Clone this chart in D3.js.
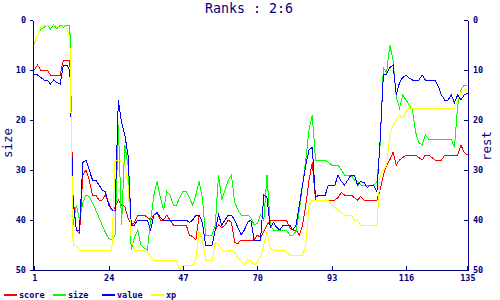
<!DOCTYPE html>
<html><head><meta charset="utf-8">
<script src="https://cdn.jsdelivr.net/npm/d3@7"></script>
<style>body{margin:0;background:#fff}svg{display:block}</style>
</head><body><svg id="c" width="500" height="300"></svg>
<script>
const title = "Ranks : 2:6";
const leftTitle = "size";
const rightTitle = "rest";
const seriesNames = ["score", "size", "value", "xp"];
const seriesColors = ["#ff0000", "#00ff00", "#0000ff", "#ffff00"];
const xTicks = [1, 24, 47, 70, 93, 116, 135];
const yTicks = [0, 10, 20, 30, 40, 50];

const score = [
 10, 9, 10, 10, 10, 11, 11, 11, 11, 8, 8, 8,
 35.5, 42, 42.7, 31, 30, 32, 35, 35, 36, 36, 35, 36.5,
 38, 37.5, 36, 37, 37.3, 39.6, 41, 40.5, 39, 39, 39, 39.5,
 40, 39, 38.6, 40, 40, 39, 40, 41, 41, 41, 41,
 41, 43, 43.3, 44, 39, 40.5, 45, 45, 45, 42, 41, 41.5,
 41, 40, 40.5, 44.5, 44.7, 44, 44, 44, 44, 44, 43,
 43.5, 42.3, 41, 40, 40, 40, 40, 40, 40, 41.5, 42, 42,
 43, 41, 37, 32, 28.5, 36, 36, 36, 36, 36, 36,
 36, 35.5, 34.5, 35, 35, 35, 35.5, 36, 35.3, 36, 36, 36,
 36, 36, 34, 31, 29, 28, 26.5, 29, 28, 27.5, 27,
 27, 27, 27, 27.5, 28, 27, 27, 27.5, 28, 28, 28, 27,
 27, 27, 27, 27, 25, 26.5, 27
];
const size = [
 4.7, 3, 1.8, 1.5, 1, 1.8, 1, 1.8, 1, 1.5, 1, 1,
 41, 37, 40, 36.5, 35, 35.3, 36.5, 38, 39.5, 41, 42.5, 43.7,
 44, 43, 21, 41, 25, 29, 46, 43.5, 42, 45, 45.6, 46,
 40, 35, 32.3, 35.5, 38, 34.3, 35, 37, 37, 35.5, 34.3,
 34.3, 35.6, 37, 35, 32.3, 35.5, 43, 43, 43, 41, 31, 36,
 34, 32, 31, 36.5, 38, 39, 39, 39, 39.5, 41, 40.7,
 39, 40, 31, 41, 42, 42, 42, 42, 42, 43, 43, 42.3,
 38, 33, 28, 22, 19, 28, 28, 28, 28, 28.5, 29,
 29, 29, 30, 31, 31, 31, 32, 32.3, 33, 33, 33, 33,
 33, 32.5, 25, 9.6, 10.5, 5, 8, 15.5, 17.6, 15, 16,
 17, 18, 22.5, 24.5, 25, 23, 23.8, 23.8, 23.8, 23.8, 23.8, 23.8,
 23.8, 23.8, 25.5, 17, 14, 13, 13
];
const value = [
 10.8, 11, 11.5, 12, 12, 12.8, 12, 12.5, 12.8, 9, 9, 10,
 36, 42, 42, 28.5, 28, 30, 32, 32, 33, 34, 34.3, 37,
 38, 38, 16, 20.5, 23, 27, 41, 41, 40, 40, 40, 40,
 42, 39, 38.5, 39.5, 40, 40, 40, 40, 40, 40, 40,
 40, 40.5, 40, 39, 39, 40.5, 45, 45, 45, 42, 39, 41,
 40, 39, 39, 40, 41.5, 43, 42, 40.5, 40, 44, 44,
 44, 35, 35.5, 41.5, 40.5, 41.5, 42, 41, 41, 41, 42, 41,
 37, 33, 29, 26, 25.5, 35.5, 35, 35, 35, 33, 33,
 33, 31, 32.3, 33, 32, 31, 31, 33, 32.3, 32.5, 33.5, 33,
 33, 34.3, 24, 11, 10.8, 9.5, 9, 15, 12.5, 11.5, 11,
 11.6, 12, 12, 12, 11, 12, 12, 12, 12, 13.3, 15, 16,
 16, 15, 16.5, 15, 16, 15, 14.6
];
const xp = [
 4.5, 3, 1.5, 1, 1, 1.2, 1, 1.3, 1.5, 1, 1.5, 3.5,
 45, 45, 46, 46, 46, 46, 46, 46, 46, 46, 46, 46,
 46, 28, 28, 28.3, 29, 33, 44, 46, 46, 46, 46, 46.5,
 47.3, 48, 48, 48, 48, 48, 48, 48, 48, 50, 49,
 49, 49, 49, 48, 42.3, 44, 48, 48, 48, 44.5, 45, 46,
 46.3, 46, 46, 46.5, 47.6, 48, 49, 48, 48.2, 49, 48.5,
 47.3, 45, 42.5, 45.6, 46, 46, 46, 46, 46.5, 47, 47, 47,
 47, 47, 45, 37, 36, 36, 36, 36, 36, 36, 37,
 37.5, 38, 38.5, 39, 39, 39, 40, 40, 41, 41, 41, 41,
 41, 41, 31, 30, 29, 23, 21, 20, 19, 19.6, 18.3,
 17.6, 17.6, 17.6, 17.6, 17.6, 17.6, 17.6, 17.6, 17.6, 17.6, 17.6, 17.6,
 17.6, 17.6, 17.6, 16, 14.5, 14, 14
];
const seriesData = [score, size, value, xp];

const navy = "#000080";
const font = "'DejaVu Sans Mono', monospace";
const svg = d3.select("#c").attr("shape-rendering", "crispEdges");

const x = d3.scaleLinear().domain([1, 135]).range([34.3, 467.4]);
const y = d3.scaleLinear().domain([0, 50]).range([20, 270]);
const axL = 33, axR = 468;

// title
svg.append("text").attr("x", 249).attr("y", 13).attr("text-anchor", "middle")
  .attr("font-family", font).attr("font-size", 13.3).attr("fill", navy).text(title);

// series
const line = d3.line().x((d, i) => x(i + 1)).y(d => y(d));
seriesData.forEach((s, k) => {
  svg.append("path").datum(s).attr("d", line).attr("fill", "none")
    .attr("stroke", seriesColors[k]).attr("stroke-width", 1);
});

function styleAxis(g) {
  g.selectAll("text").attr("font-family", font).attr("font-size", 8.5)
    .attr("font-weight", "bold").attr("fill", navy);
  g.selectAll("line").attr("stroke", navy);
  g.selectAll("path").attr("stroke", navy);
}

// left axis
const gl = svg.append("g").attr("transform", `translate(${axL},0)`)
  .call(d3.axisLeft(y).tickValues(yTicks).tickSize(3).tickSizeOuter(0).tickPadding(4));
styleAxis(gl);
// right axis
const gr = svg.append("g").attr("transform", `translate(${axR},0)`)
  .call(d3.axisRight(y).tickValues(yTicks).tickSize(-4).tickSizeOuter(0).tickPadding(5));
styleAxis(gr);
// bottom axis
const gb = svg.append("g").attr("transform", `translate(0,${y(50)})`)
  .call(d3.axisBottom(x).tickValues(xTicks).tickSize(-4).tickSizeOuter(0).tickPadding(5));
gb.select(".domain").remove();
styleAxis(gb);
gb.append("line").attr("x1", axL - 2).attr("x2", axR + 1).attr("y1", 0).attr("y2", 0)
  .attr("stroke", navy);

// axis titles
svg.append("text").attr("transform", `translate(12,${y(24.6)}) rotate(-90)`)
  .attr("text-anchor", "middle").attr("font-family", font).attr("font-size", 12.5)
  .attr("fill", navy).text(leftTitle);
svg.append("text").attr("transform", `translate(491,${y(25.2)}) rotate(-90)`)
  .attr("text-anchor", "middle").attr("font-family", font).attr("font-size", 12.5)
  .attr("fill", navy).text(rightTitle);

// legend
seriesNames.forEach((n, k) => {
  const x0 = 4 + k * 49;
  svg.append("line").attr("x1", x0).attr("x2", x0 + 13).attr("y1", 294.5).attr("y2", 294.5)
    .attr("stroke", seriesColors[k]).attr("stroke-width", 2);
  svg.append("text").attr("x", x0 + 15).attr("y", 298).attr("font-family", font)
    .attr("font-size", 8.5).attr("font-weight", "bold").attr("fill", navy).text(n);
});
</script>
</body></html>
